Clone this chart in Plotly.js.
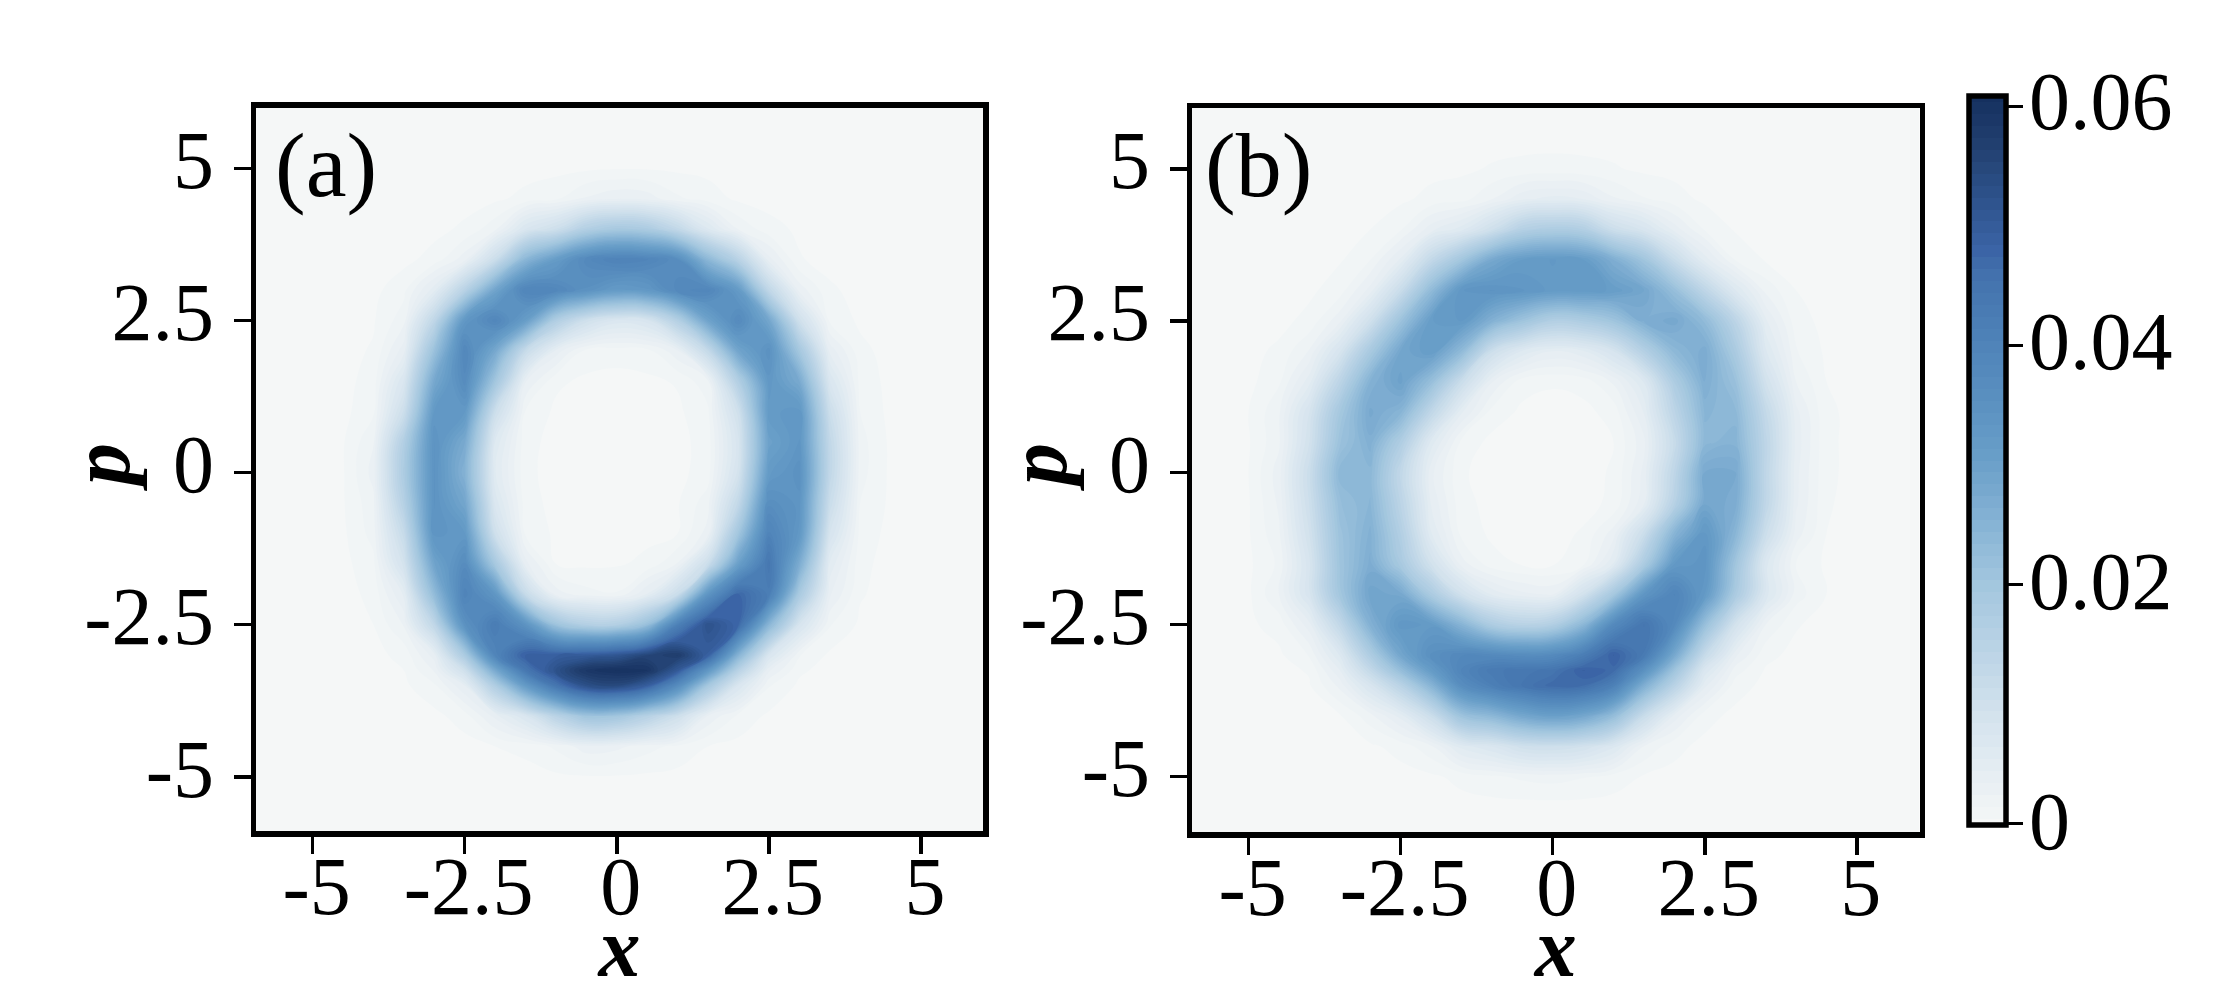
<!DOCTYPE html>
<html><head><meta charset="utf-8">
<script src="https://cdn.plot.ly/plotly-3.0.1.min.js"></script>
<style>html,body{margin:0;padding:0;background:#fff}#c{width:2220px;height:994px}</style>
</head><body><div id="c"></div>
<script>
const xGrid=[-6,-5.5,-5,-4.5,-4,-3.5,-3,-2.5,-2,-1.5,-1,-0.5,0,0.5,1,1.5,2,2.5,3,3.5,4,4.5,5,5.5,6];
const pGrid=[6,5.5,5,4.5,4,3.5,3,2.5,2,1.5,1,0.5,0,-0.5,-1,-1.5,-2,-2.5,-3,-3.25,-3.5,-4,-4.5,-5,-5.5,-6];
// density values in units of 1e-4, read row by row from top (p=6) to bottom (p=-6)
const panelA=[
[0,0,0,0,0,0,0,0,0,0,0,0,0,0,0,0,0,0,0,0,0,0,0,0,0],
[0,0,0,0,0,0,0,0,0,0,0,0,0,0,0,0,0,0,0,0,0,0,0,0,0],
[0,0,0,0,0,0,0,0,0,0,1,2,3,3,2,1,0,0,0,0,0,0,0,0,0],
[0,0,0,0,0,0,0,0,2,7,12,26,33,30,16,9,2,0,0,0,0,0,0,0,0],
[0,0,0,0,0,0,1,6,21,75,105,165,190,180,130,66,23,8,2,0,0,0,0,0,0],
[0,0,0,0,0,1,8,30,110,245,316,380,405,395,365,240,150,38,5,0,0,0,0,0,0],
[0,0,0,0,1,11,50,150,290,395,388,350,320,330,380,390,320,133,30,6,0,0,0,0,0],
[0,0,0,0,3,20,135,330,390,312,168,100,70,80,160,295,375,285,100,12,2,0,0,0,0],
[0,0,0,1,5,40,215,385,280,118,40,10,8,10,32,124,290,350,195,41,7,0,0,0,0],
[0,0,0,1,8,75,280,370,200,35,6,2,1,2,5,22,165,330,275,75,10,1,0,0,0],
[0,0,0,1,12,107,325,325,108,13,2,0,0,1,2,12,100,320,330,110,14,1,0,0,0],
[0,0,0,3,23,165,345,275,63,7,1,0,0,0,1,8,80,300,335,130,18,2,0,0,0],
[0,0,0,3,28,178,345,255,55,6,1,0,0,0,1,9,88,320,350,132,18,2,0,0,0],
[0,0,0,3,21,158,345,285,71,8,1,0,0,1,3,20,129,360,340,113,14,2,0,0,0],
[0,0,0,2,18,120,340,325,102,12,2,0,1,2,4,29,200,400,330,85,10,1,0,0,0],
[0,0,0,1,11,90,292,370,190,38,4,2,3,6,25,108,305,440,270,52,7,0,0,0,0],
[0,0,0,0,7,46,230,400,335,120,30,18,15,45,112,340,475,420,184,36,5,0,0,0,0],
[0,0,0,0,4,25,133,350,425,345,208,162,163,220,410,524,475,245,83,15,2,0,0,0,0],
[0,0,0,0,1,7,39,180,395,490,493,500,514,553,575,490,250,76,15,2,0,0,0,0,0],
[0,0,0,0,0,4,25,100,276,440,525,590,605,595,505,330,150,36,6,0,0,0,0,0,0],
[0,0,0,0,0,2,12,44,170,320,445,530,545,494,368,192,74,15,2,0,0,0,0,0,0],
[0,0,0,0,0,0,1,9,37,75,148,206,200,155,103,33,11,2,0,0,0,0,0,0,0],
[0,0,0,0,0,0,0,0,4,7,16,30,27,18,11,4,1,0,0,0,0,0,0,0,0],
[0,0,0,0,0,0,0,0,0,0,2,3,3,2,1,0,0,0,0,0,0,0,0,0,0],
[0,0,0,0,0,0,0,0,0,0,0,0,0,0,0,0,0,0,0,0,0,0,0,0,0],
[0,0,0,0,0,0,0,0,0,0,0,0,0,0,0,0,0,0,0,0,0,0,0,0,0]];
const panelB=[
[0,0,0,0,0,0,0,0,0,0,0,0,0,0,0,0,0,0,0,0,0,0,0,0,0],
[0,0,0,0,0,0,0,0,0,0,0,0,0,0,0,0,0,0,0,0,0,0,0,0,0],
[0,0,0,0,0,0,0,0,1,2,5,7,8,7,5,2,1,0,0,0,0,0,0,0,0],
[0,0,0,0,0,0,1,2,7,10,24,42,48,44,26,15,8,2,0,0,0,0,0,0,0],
[0,0,0,0,0,1,4,13,40,60,103,160,175,165,108,80,40,13,3,1,0,0,0,0,0],
[0,0,0,0,1,3,14,46,127,200,280,315,325,315,265,204,117,50,14,3,0,0,0,0,0],
[0,0,0,0,2,9,38,114,231,333,345,335,320,320,312,284,221,137,65,21,4,0,0,0,0],
[0,0,0,1,7,31,99,210,313,325,258,207,165,175,205,264,280,231,143,46,8,1,0,0,0],
[0,0,1,6,25,82,186,285,314,234,107,62,44,52,84,160,239,270,182,66,15,2,0,0,0],
[0,0,1,12,50,142,254,298,222,112,35,8,5,8,26,65,175,265,215,95,24,4,0,0,0],
[0,0,4,22,84,193,277,248,134,46,10,2,1,1,8,45,141,246,238,126,37,6,1,0,0],
[0,0,3,22,94,212,260,170,60,11,1,0,0,0,4,31,117,240,251,139,40,6,1,0,0],
[0,0,4,29,110,240,240,130,37,5,1,0,0,1,5,37,136,275,275,136,37,6,1,0,0],
[0,0,3,26,105,222,245,143,43,7,1,0,0,1,6,42,153,282,270,135,36,5,1,0,0],
[0,0,3,22,94,210,257,164,55,11,2,1,1,5,29,110,248,330,246,109,29,4,0,0,0],
[0,0,2,16,81,205,268,186,95,29,8,3,3,11,55,178,324,340,204,68,14,2,0,0,0],
[0,0,2,24,81,198,290,280,180,97,52,37,33,93,192,336,395,323,182,71,19,4,0,0,0],
[0,0,2,8,40,129,257,330,321,250,175,150,165,240,379,445,378,220,92,24,5,0,0,0,0],
[0,0,0,2,15,65,173,286,356,383,378,368,375,420,485,432,279,120,37,7,1,0,0,0,0],
[0,0,0,1,5,44,126,224,317,395,430,440,448,485,470,352,207,73,19,3,0,0,0,0,0],
[0,0,0,0,3,27,78,148,248,363,413,445,470,465,410,263,149,47,9,1,0,0,0,0,0],
[0,0,0,0,0,3,20,48,108,209,240,283,305,285,225,115,40,8,1,0,0,0,0,0,0],
[0,0,0,0,0,0,2,8,22,59,75,100,105,95,68,24,7,1,0,0,0,0,0,0,0],
[0,0,0,0,0,0,0,0,2,7,12,16,18,15,9,3,1,0,0,0,0,0,0,0,0],
[0,0,0,0,0,0,0,0,0,0,0,0,0,0,0,0,0,0,0,0,0,0,0,0,0],
[0,0,0,0,0,0,0,0,0,0,0,0,0,0,0,0,0,0,0,0,0,0,0,0,0]];
const axisTicks=[-5,-2.5,0,2.5,5];
const axisTickText=['-5','-2.5','0','2.5','5'];
const barTicks=[0,0.02,0.04,0.06];
const barTickText=['0','0.02','0.04','0.06'];
const zMax=0.0608;
const colorStops=[[0,'#f5f7f7'],[0.083,'#e3ecf2'],[0.167,'#cfe0ec'],[0.25,'#b8d2e5'],[0.333,'#a2c6de'],[0.417,'#85b2d4'],[0.5,'#6a9fc9'],[0.583,'#5a90c0'],[0.667,'#4e82b8'],[0.75,'#4473ae'],[0.79,'#3a63a5'],[0.87,'#2c5088'],[0.93,'#224070'],[1,'#15305f']];

const W=2220,H=994,FONT='"Liberation Serif", serif',FS=82;
const toZ=m=>m.map(r=>r.map(v=>v/1e4)).reverse();
const yAsc=pGrid.slice().reverse();
const font={family:FONT,size:FS,color:'#000'};
const LW=5.5;
function hm(z,xa,ya,extra){return Object.assign({type:'contour',x:xGrid,y:yAsc,z:toZ(z),xaxis:xa,yaxis:ya,autocontour:false,contours:{start:0.0004,end:0.0604,size:0.001,coloring:'fill',showlines:false},line:{width:0,smoothing:1.3},zmin:0,zmax:zMax,colorscale:colorStops,hoverinfo:'skip'},extra);}
function xAx(l,r,range){return {domain:[l/W,r/W],range,tickvals:axisTicks,ticktext:axisTickText,ticks:'outside',ticklen:17,tickwidth:3.5,tickcolor:'#000',showline:true,mirror:true,linewidth:LW,linecolor:'#000',showgrid:false,zeroline:false,tickfont:font,ticklabelstandoff:-38,ticklabelshift:4,tickangle:0,
 title:{text:'<b><i>x</i></b>',font:{family:FONT,size:84,color:'#000'},standoff:34}};}
function yAx(t,b,range){return {domain:[1-b/H,1-t/H],range,tickvals:axisTicks,ticktext:axisTickText,ticks:'outside',ticklen:17,tickwidth:3.5,tickcolor:'#000',showline:true,mirror:true,linewidth:LW,linecolor:'#000',showgrid:false,zeroline:false,tickfont:font,ticklabelstandoff:3,ticklabelshift:-9};}
const data=[
 hm(panelA,'x','y',{showscale:true,colorbar:{x:1969/W,xanchor:'left',xpad:0,ypad:0,y:1-825/H,yanchor:'bottom',len:729/H,lenmode:'fraction',thickness:37,thicknessmode:'pixels',outlinewidth:LW,outlinecolor:'#000',tickmode:'array',tickvals:barTicks,ticktext:barTickText.map(()=>' '),ticks:'outside',ticklen:15,tickwidth:3,tickcolor:'#000',tickfont:font}}),
 hm(panelB,'x2','y2',{showscale:false})
];
const barLabels=barTicks.map((v,i)=>({text:barTickText[i],xref:'paper',yref:'paper',x:2027/W,y:1-(821-v/0.02*240)/H,showarrow:false,font,xanchor:'left',yanchor:'middle'}));
const axisLabel=(t,x,y,angle)=>({text:t,xref:'paper',yref:'paper',x:x/W,y:1-y/H,showarrow:false,font:{family:FONT,size:84,color:'#000'},textangle:angle,xanchor:'center',yanchor:'middle'});
const tagFont={family:FONT,size:92,color:'#000'};
const layout={width:W,height:H,margin:{l:0,r:0,t:0,b:0},paper_bgcolor:'#fff',plot_bgcolor:'#f5f7f7',showlegend:false,
 xaxis:Object.assign(xAx(256,983,[-5.93,6.02]),{anchor:'y'}),
 yaxis:Object.assign(yAx(107.5,831,[-5.89,6.0]),{anchor:'x'}),
 xaxis2:Object.assign(xAx(1192,1919.5,[-5.93,6.03]),{anchor:'y2'}),
 yaxis2:Object.assign(yAx(108,832,[-5.91,6.0]),{anchor:'x2'}),
 annotations:[
  {text:'(a)',xref:'paper',yref:'paper',x:326/W,y:1-165/H,showarrow:false,font:tagFont,xanchor:'center',yanchor:'middle'},
  {text:'(b)',xref:'paper',yref:'paper',x:1258/W,y:1-165/H,showarrow:false,font:tagFont,xanchor:'center',yanchor:'middle'},
  axisLabel('<b><i>p</i></b>',100,467,-90),
  axisLabel('<b><i>p</i></b>',1037,467,-90)
 ].concat(barLabels)};
Plotly.newPlot('c',data,layout,{displayModeBar:false,staticPlot:true});
</script></body></html>
